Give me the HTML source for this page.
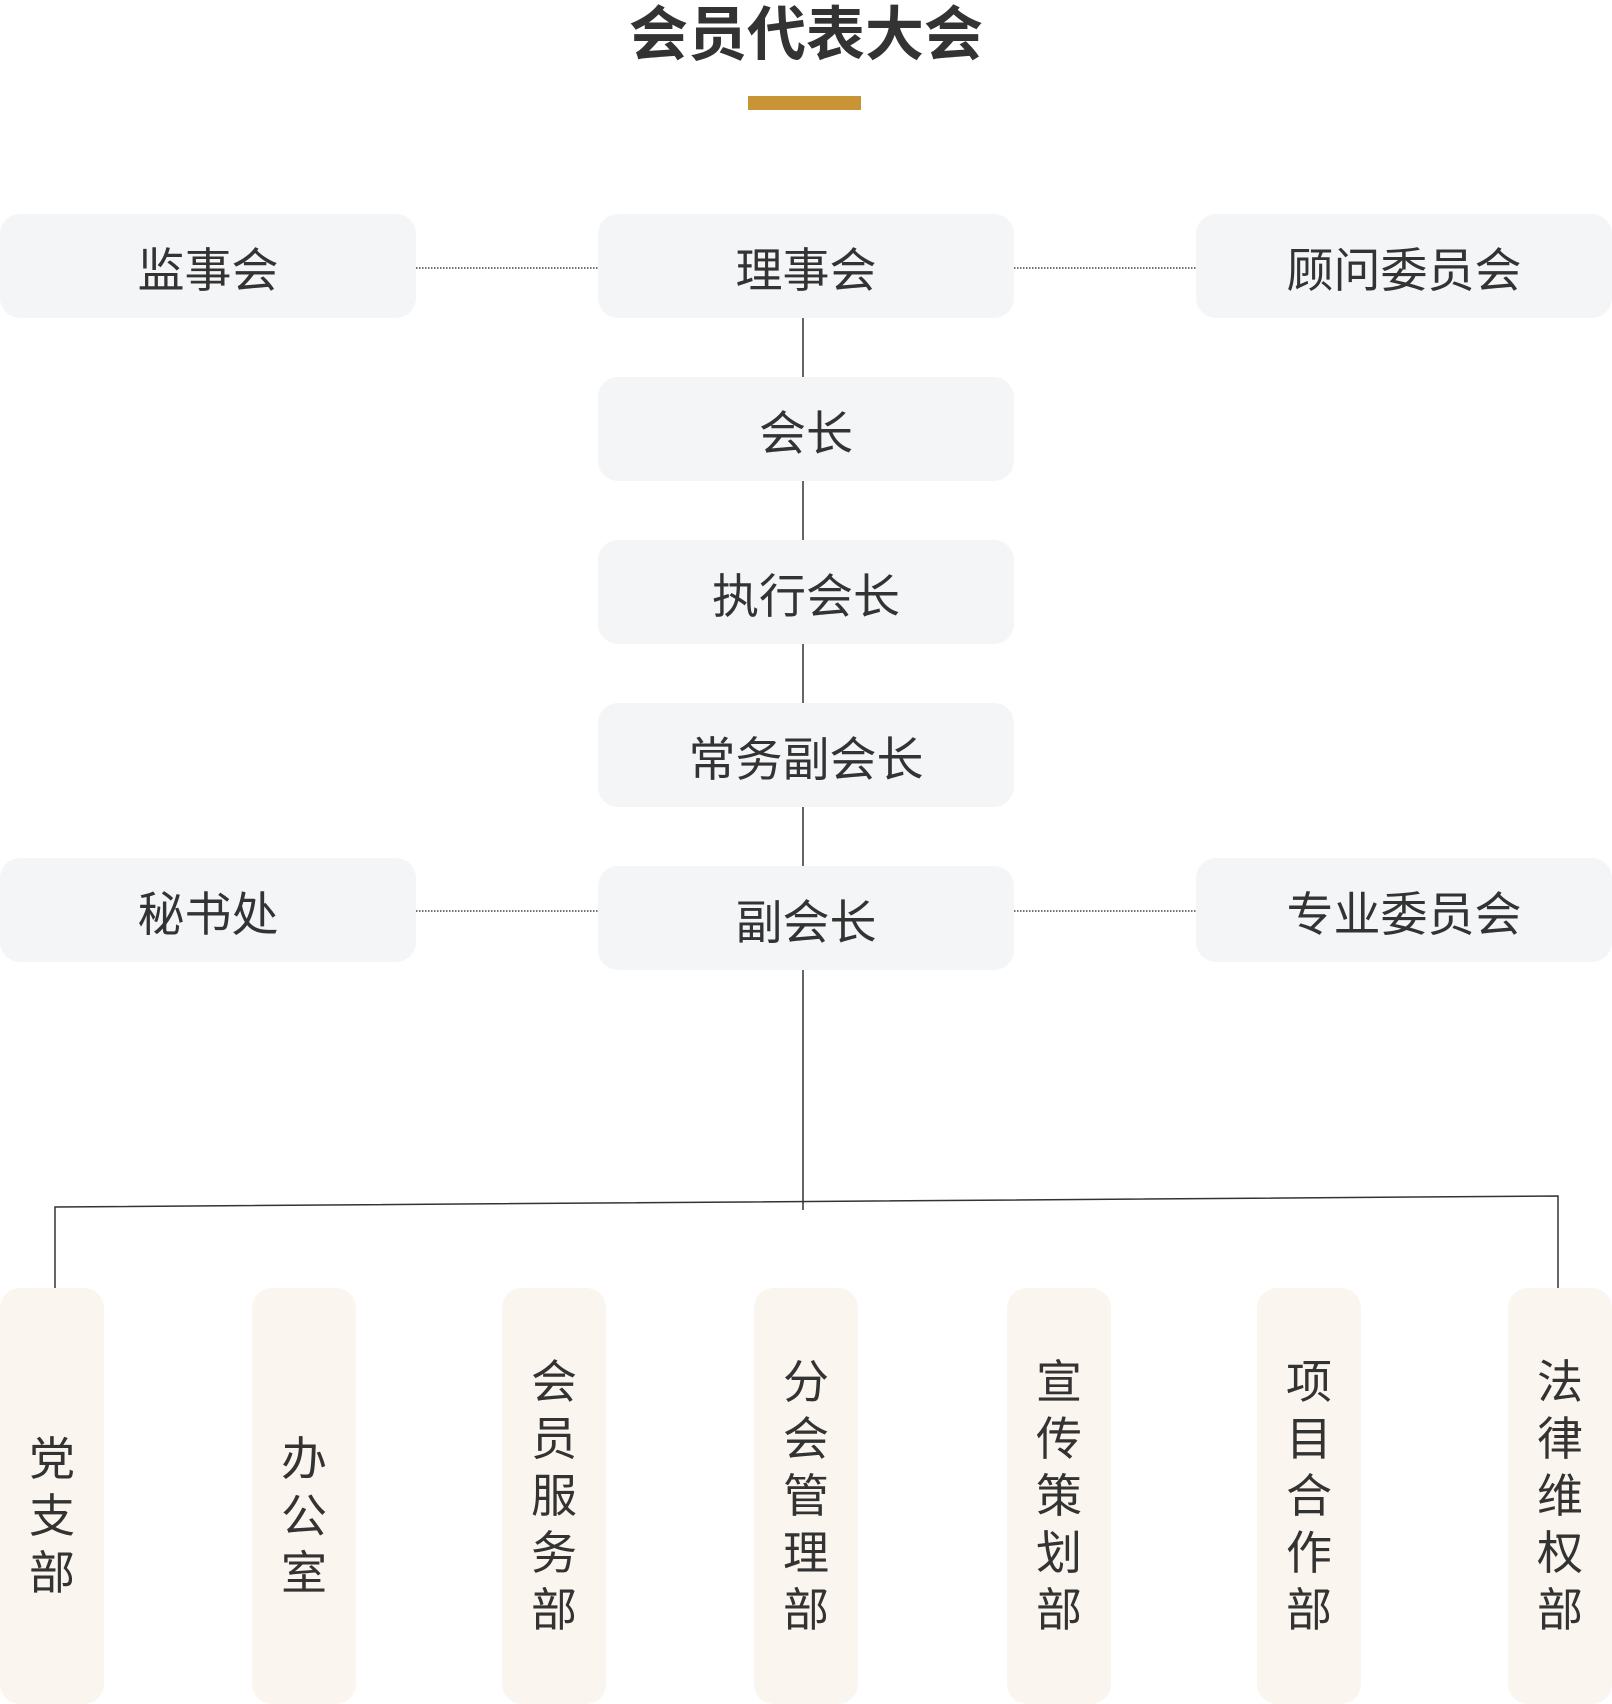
<!DOCTYPE html>
<html><head><meta charset="utf-8"><style>
html,body{margin:0;padding:0;background:#fff;}
body{width:1612px;height:1704px;position:relative;overflow:hidden;font-family:"Liberation Sans","Noto Sans CJK SC",sans-serif;color:#333;}
.t{position:absolute;left:0;width:1612px;top:0px;text-align:center;font-size:59px;font-weight:bold;color:#333;line-height:70px;}
.bar{position:absolute;left:748px;top:96px;width:113px;height:14px;background:#c89436;}
.b{position:absolute;width:416px;height:104px;background:#f4f5f7;border-radius:20px;display:flex;align-items:center;justify-content:center;font-size:47px;color:#333;}
.v{position:absolute;top:1288px;width:104px;height:416px;background:#faf5ef;border-radius:20px;display:flex;align-items:center;justify-content:center;font-size:46px;line-height:57px;color:#333;text-align:center;box-sizing:border-box;}
.v3{padding-top:40px;}
svg{position:absolute;left:0;top:0;}
</style></head><body>
<svg width="1612" height="1704">
<g stroke="#444" stroke-width="1.5" stroke-dasharray="1.5 1.5" fill="none">
<line x1="416" y1="268" x2="598" y2="268"/>
<line x1="1014" y1="268" x2="1196" y2="268"/>
<line x1="416" y1="911" x2="598" y2="911"/>
<line x1="1014" y1="911" x2="1196" y2="911"/>
</g>
<g stroke="#333" stroke-width="1.5" fill="none">
<line x1="803" y1="318" x2="803" y2="377"/>
<line x1="803" y1="480" x2="803" y2="540"/>
<line x1="803" y1="643" x2="803" y2="703"/>
<line x1="803" y1="806" x2="803" y2="866"/>
<line x1="803" y1="970" x2="803" y2="1210"/>
<polyline points="55,1288 55,1207 1558,1196 1558,1288"/>
</g>
</svg>
<div class="t">会员代表大会</div>
<div class="bar"></div>
<div class="b" style="left:0;top:214px">监事会</div>
<div class="b" style="left:598px;top:214px">理事会</div>
<div class="b" style="left:1196px;top:214px">顾问委员会</div>
<div class="b" style="left:598px;top:377px">会长</div>
<div class="b" style="left:598px;top:540px">执行会长</div>
<div class="b" style="left:598px;top:703px">常务副会长</div>
<div class="b" style="left:0;top:858px">秘书处</div>
<div class="b" style="left:598px;top:866px">副会长</div>
<div class="b" style="left:1196px;top:858px">专业委员会</div>
<div class="v v3" style="left:0">党<br>支<br>部</div>
<div class="v v3" style="left:252px">办<br>公<br>室</div>
<div class="v" style="left:502px">会<br>员<br>服<br>务<br>部</div>
<div class="v" style="left:754px">分<br>会<br>管<br>理<br>部</div>
<div class="v" style="left:1007px">宣<br>传<br>策<br>划<br>部</div>
<div class="v" style="left:1257px">项<br>目<br>合<br>作<br>部</div>
<div class="v" style="left:1508px">法<br>律<br>维<br>权<br>部</div>
</body></html>
